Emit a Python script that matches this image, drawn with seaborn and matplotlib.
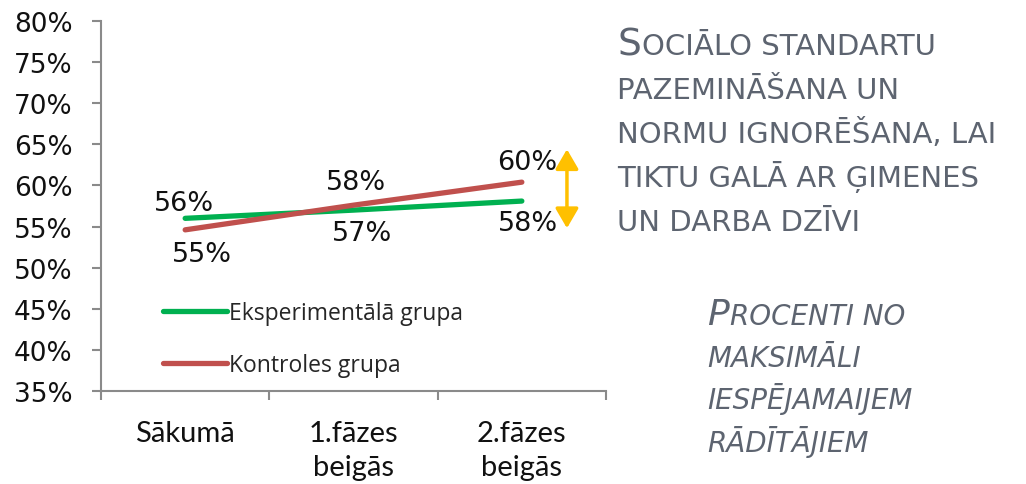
import pandas as pd
import seaborn as sns
import matplotlib.pyplot as plt

# dati
posmi = ['Sākumā', '1.fāzes\nbeigās', '2.fāzes\nbeigās']
eksperimentala = [56.0, 57.0, 58.1]
kontroles = [54.6, 57.6, 60.4]
grupas = ['Eksperimentālā grupa', 'Kontroles grupa']
krasas = ['#00b050', '#c0504d']
y_ticks = list(range(35, 81, 5))

W, H = 1026, 485
teksta_krasa = '#5d6470'

df = pd.DataFrame({
    'x': list(range(len(posmi))) * 2,
    'vertiba': eksperimentala + kontroles,
    'grupa': [grupas[0]] * len(posmi) + [grupas[1]] * len(posmi),
})

sns.set_style('white')
plt.rcParams['font.family'] = ['DejaVu Sans']

fig = plt.figure(figsize=(W / 100, H / 100), dpi=100)
ax = fig.add_axes([101 / W, 1 - 392 / H, 505 / W, 370 / H])

sns.lineplot(data=df, x='x', y='vertiba', hue='grupa', palette=krasas,
             linewidth=3.8, ax=ax, sort=False)
for l in ax.lines:
    l.set_solid_capstyle('round')

# asis
ax.set_xlim(-0.5, 2.5)
ax.set_ylim(35, 80)
ax.set_xlabel('')
ax.set_ylabel('')
ax.set_yticks(y_ticks)
ax.set_yticklabels([f'{v}%' for v in y_ticks], fontsize=19, color='#111111')
ax.tick_params(axis='y', length=6.5, width=1.5, color='#8a8a8a', pad=14, left=True)
ax.set_xticks([-0.5, 0.5, 1.5, 2.5])
ax.set_xticklabels([])
ax.tick_params(axis='x', which='major', length=6.5, width=1.5, color='#8a8a8a', bottom=True)
ax.set_xticks(range(len(posmi)), minor=True)
ax.set_xticklabels(posmi, minor=True, fontsize=21, family='Lato', color='#111111')
ax.tick_params(axis='x', which='minor', length=0, pad=21)
for t in ax.xaxis.get_minorticklabels():
    t.set_linespacing(1.35)
for s in ['top', 'right']:
    ax.spines[s].set_visible(False)
for s in ['left', 'bottom']:
    ax.spines[s].set_color('#8a8a8a')
    ax.spines[s].set_linewidth(1.5)

# datu etiķetes
nobides = {
    grupas[0]: [(-1, 15), (9, -23), (6, -22)],
    grupas[1]: [(17, -24), (3, 23), (5, 20)],
}
for grupa, vert in zip(grupas, [eksperimentala, kontroles]):
    for i, v in enumerate(vert):
        ax.annotate(f'{round(v):.0f}%', xy=(i, v), xytext=nobides[grupa][i],
                    textcoords='offset pixels', ha='center', va='center',
                    fontsize=19.5, color='#111111', annotation_clip=False)

# bulta
ax.annotate('', xy=(2.268, 64.4), xytext=(2.268, 54.8),
            arrowprops=dict(arrowstyle='<|-|>,head_length=1.2,head_width=0.7',
                            color='#ffc000', lw=2.5, shrinkA=0, shrinkB=0,
                            mutation_scale=10),
            annotation_clip=False)

# leģenda
h, lab = ax.get_legend_handles_labels()
ax.legend(h, lab, loc='upper left', bbox_to_anchor=(0.122, 0.243), frameon=False,
          borderpad=0, borderaxespad=0, handlelength=2.8, handletextpad=0.1,
          labelspacing=1.2, prop={'family': 'Open Sans', 'size': 16.5})

# teksts labajā pusē
renderer = fig.canvas.get_renderer()


def rinda(x, y, pirmais, parejais, liels, mazs, **kw):
    t = fig.text(x / W, 1 - y / H, pirmais, fontsize=liels, va='baseline',
                 color=teksta_krasa, **kw)
    bb = t.get_window_extent(renderer)
    fig.text(bb.x1 / W + 0.001, 1 - y / H, parejais, fontsize=mazs, va='baseline',
             color=teksta_krasa, **kw)


rinda(617, 55, 'S', 'OCIĀLO STANDARTU', 27, 21)
for y, t in zip([99, 143, 187, 231],
                ['PAZEMINĀŠANA UN', 'NORMU IGNORĒŠANA, LAI',
                 'TIKTU GALĀ AR ĢIMENES', 'UN DARBA DZĪVI']):
    fig.text(617 / W, 1 - y / H, t, fontsize=21, va='baseline', color=teksta_krasa)

rinda(707, 325, 'P', 'ROCENTI NO', 26, 20, style='italic')
for y, t in zip([367, 409, 452], ['MAKSIMĀLI', 'IESPĒJAMAIJEM', 'RĀDĪTĀJIEM']):
    fig.text(707 / W, 1 - y / H, t, fontsize=20, va='baseline', color=teksta_krasa,
             style='italic')

plt.savefig('out.png', dpi=100)
plt.close()
